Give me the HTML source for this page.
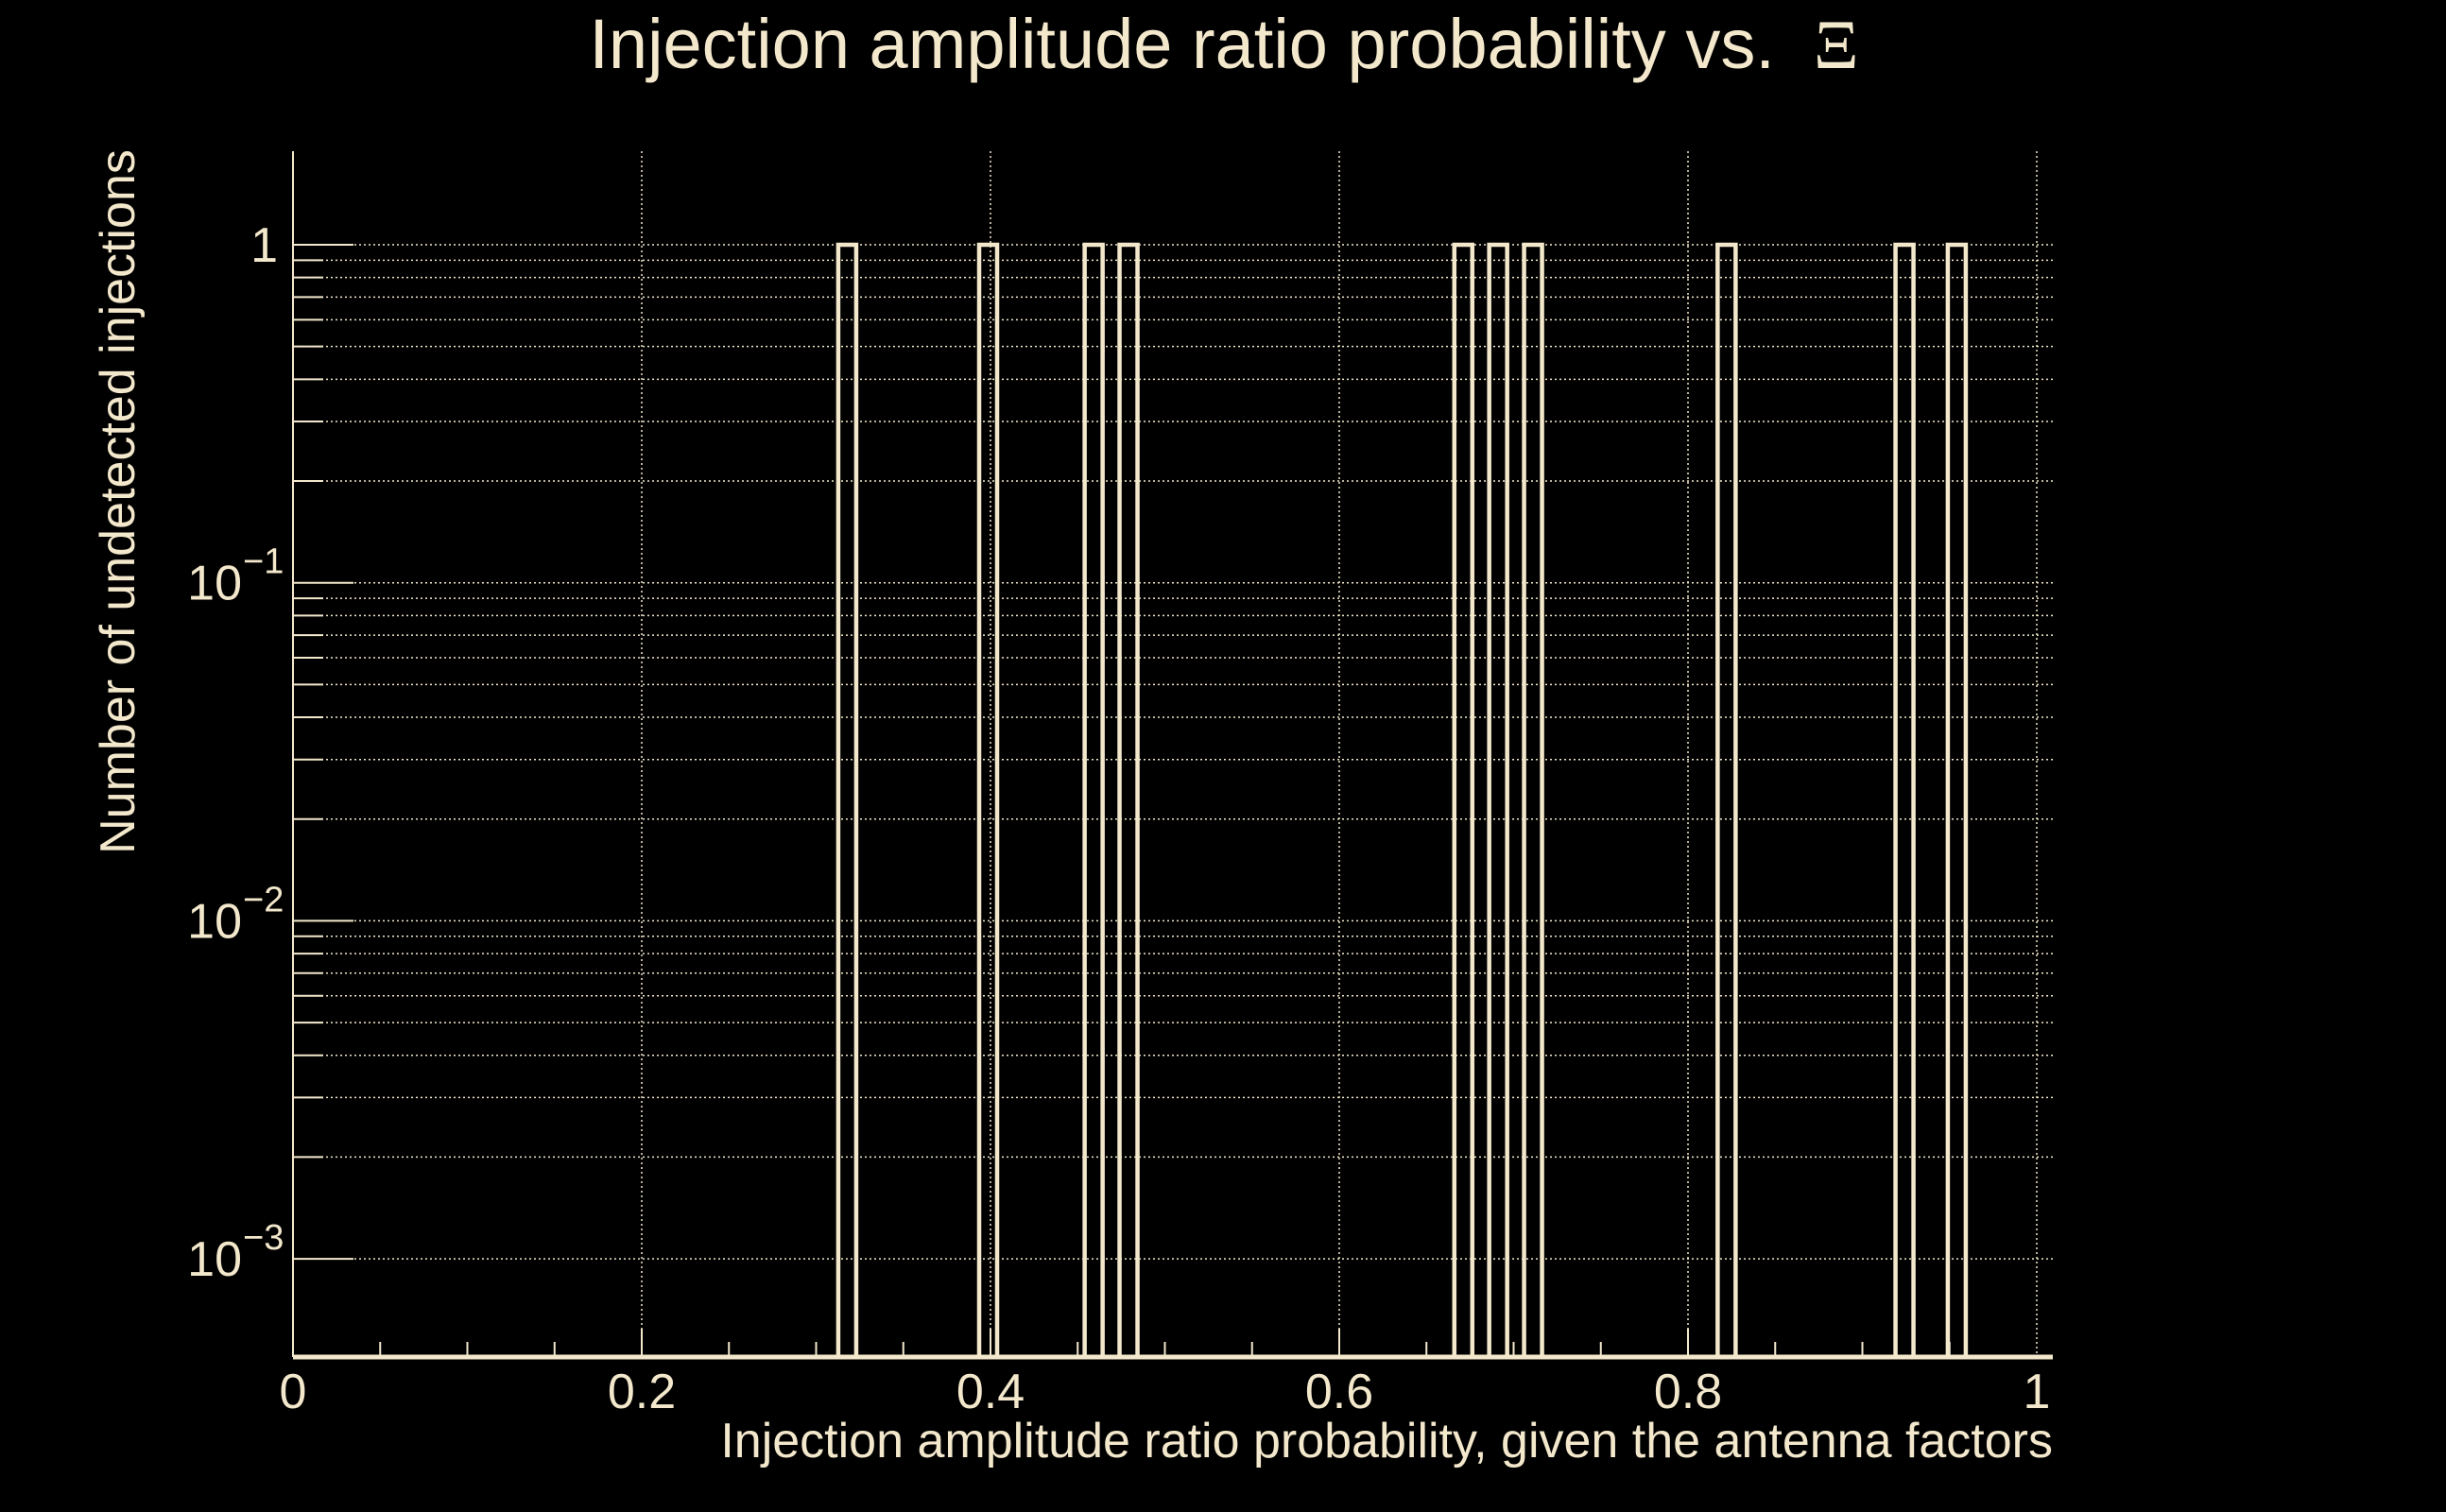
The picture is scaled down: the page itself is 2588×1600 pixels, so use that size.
<!DOCTYPE html>
<html><head><meta charset="utf-8"><style>
html,body{margin:0;padding:0;background:#000;}
svg{display:block;}
text{font-family:"Liberation Sans",sans-serif;fill:#f3e8cc;}
</style></head><body>
<svg id="chart" width="2588" height="1600" viewBox="0 0 2588 1600" xmlns="http://www.w3.org/2000/svg">
<rect width="2588" height="1600" fill="#000"/>
<text x="1295" y="72" font-size="74" text-anchor="middle" xml:space="preserve">Injection amplitude ratio probability vs.  <tspan font-family="Liberation Serif, serif">Ξ</tspan></text>
<text transform="translate(142,531) rotate(-90)" font-size="52" text-anchor="middle">Number of undetected injections</text>
<text x="2172" y="1542" font-size="52" text-anchor="end">Injection amplitude ratio probability, given the antenna factors</text>
<g id="grid"></g><g id="bars"></g><g id="axes"></g>
</svg>
<script>
const binLefts = [0.3127,0.3935,0.454,0.474,0.666,0.686,0.706,0.817,0.919,0.949];
const binCounts = [1,1,1,1,1,1,1,1,1,1];
const binWidth = 0.0103;
const xTicks = [0,0.2,0.4,0.6,0.8,1];
const xTickLabels = ["0","0.2","0.4","0.6","0.8","1"];
const yDecades = [-3,-2,-1,0];
const yTickLabels = ["10","10","10","1"];

const C="#f3e8cc", NS="http://www.w3.org/2000/svg";
const X0=310,X1=2155,PR=2172,PT=160,PB=1436;
const xs=v=>X0+(X1-X0)*v;
const ys=v=>259-357.7*Math.log10(v);
function mk(tag,attrs,parent){const e=document.createElementNS(NS,tag);for(const k in attrs)e.setAttribute(k,attrs[k]);parent.appendChild(e);return e;}
const grid=document.getElementById('grid'),bars=document.getElementById('bars'),axes=document.getElementById('axes');
yDecades.forEach((d,i)=>{
  for(let m=1;m<=9;m++){
    const v=m*Math.pow(10,d), y=ys(v);
    if(y<PT||y>PB-4) continue;
    const g=mk('line',{x1:X0,x2:PR,y1:y,y2:y,stroke:C,'stroke-width':1.5,'stroke-dasharray':'2 3'},grid);
    
    
    const t=mk('line',{x1:X0,x2:X0+(m==1?64:32),y1:y,y2:y,stroke:C,'stroke-width':2},axes);
    
    
  }
  const y=ys(Math.pow(10,d));
  const lab=mk('text',{x:d==0?294:256,y:y+18,'font-size':52,'text-anchor':'end'},axes);
  
  
  lab.textContent=yTickLabels[i];
  if(d!=0){const s=mk('text',{x:257,y:y-10,'font-size':38},axes);s.textContent='−'+(-d);
    
    }
});
xTicks.forEach((v,i)=>{
  const x=xs(v);
  const g=mk('line',{x1:x,x2:x,y1:PT,y2:PB,stroke:C,'stroke-width':1.5,'stroke-dasharray':'2 3'},grid);
  
  
  const l=mk('text',{x:x,y:1490,'font-size':52,'text-anchor':'middle'},axes);
  
  
  l.textContent=xTickLabels[i];
});
for(let k=1;k<20;k++){const x=xs(k*0.05);
  const t=mk('line',{x1:x,x2:x,y1:PB,y2:PB-(k%4==0?30:16),stroke:C,'stroke-width':2},axes);
  
  }
binLefts.forEach((b,i)=>{
  const xa=xs(b),xb=xs(b+binWidth),yt=ys(binCounts[i]);
  const p=mk('path',{d:`M${xa},${PB} L${xa},${yt} L${xb},${yt} L${xb},${PB}`,fill:'none',stroke:C,'stroke-width':4.5},bars);
  
  
});
const la=mk('line',{x1:X0,x2:X0,y1:PT,y2:PB,stroke:C,'stroke-width':2},axes);


const lb=mk('line',{x1:X0,x2:PR,y1:PB,y2:PB,stroke:C,'stroke-width':5},axes);


</script>
</body></html>
